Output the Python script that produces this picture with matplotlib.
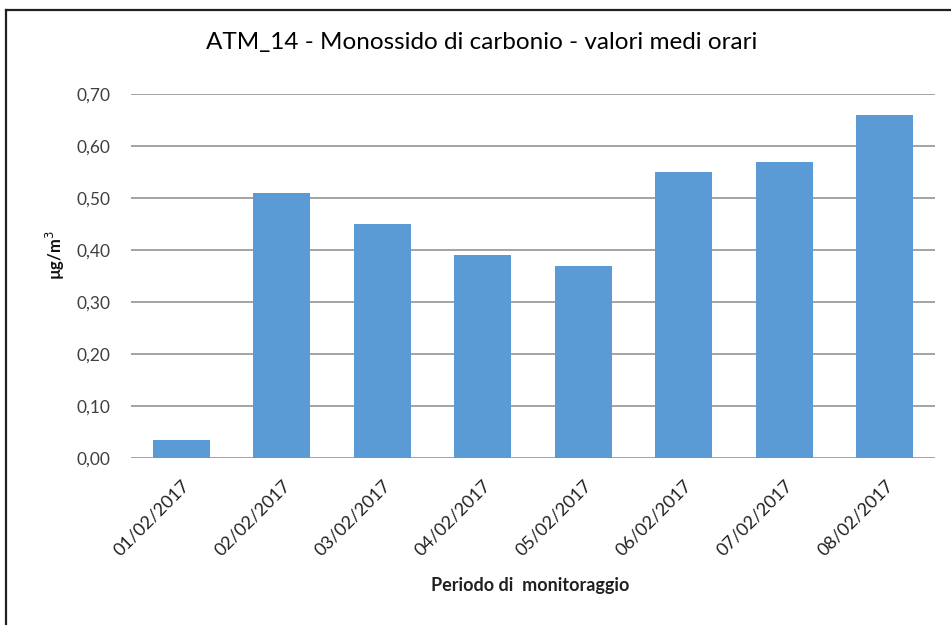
import matplotlib
matplotlib.use("Agg")
import matplotlib.pyplot as plt
from matplotlib.lines import Line2D

categories = ["01/02/2017", "02/02/2017", "03/02/2017", "04/02/2017",
              "05/02/2017", "06/02/2017", "07/02/2017", "08/02/2017"]
values = [0.035, 0.51, 0.45, 0.39, 0.37, 0.55, 0.57, 0.66]
yticks = [0.0, 0.1, 0.2, 0.3, 0.4, 0.5, 0.6, 0.7]
ytick_labels = ["0,00", "0,10", "0,20", "0,30", "0,40", "0,50", "0,60", "0,70"]

plt.rcParams['font.family'] = ['Lato', 'DejaVu Sans']

fig = plt.figure(figsize=(9.51, 6.25), dpi=100)
ax = fig.add_axes([131/951, 1-458/625, (935-131)/951, (458-94)/625])

x = list(range(len(categories)))
ax.bar(x, values, width=0.57, color="#5B9BD5", zorder=3)
ax.set_xlim(-0.5, len(categories)-0.5)
ax.set_ylim(0, 0.7)
ax.set_yticks(yticks)
ax.set_yticklabels(ytick_labels, fontsize=12.5, color="#404040")
ax.set_xticks(x)
ax.set_xticklabels(categories, rotation=45, ha="right", rotation_mode="anchor",
                   fontsize=13, color="#202020")
ax.tick_params(axis="x", length=0, pad=14)
ax.tick_params(axis="y", length=0, pad=15)
ax.yaxis.grid(True, color="#8a8a8a", linewidth=1.1, zorder=0)
for s in ax.spines.values():
    s.set_visible(False)
ax.set_axisbelow(True)

fig.text(530/951, 1-585/625, "Periodo di  monitoraggio", fontsize=13, fontweight="bold",
         color="#202020", ha="center", va="center")
fig.text(55/951, 1-255/625, "µg/m$^3$", fontsize=12, fontweight="bold",
         color="#101010", ha="center", va="center", rotation=90)

fig.text(482/951, 1-42/625, "ATM_14 - Monossido di carbonio - valori medi orari",
         ha="center", va="center", fontsize=17.5, color="#000000")

# outer frame (left and top edges visible)
fig.add_artist(Line2D([6/951, 6/951], [0, 1-10/625], transform=fig.transFigure,
                      color="#202020", linewidth=1.6))
fig.add_artist(Line2D([6/951, 1], [1-10/625, 1-10/625], transform=fig.transFigure,
                      color="#202020", linewidth=1.6))

fig.savefig("out.png", dpi=100)
